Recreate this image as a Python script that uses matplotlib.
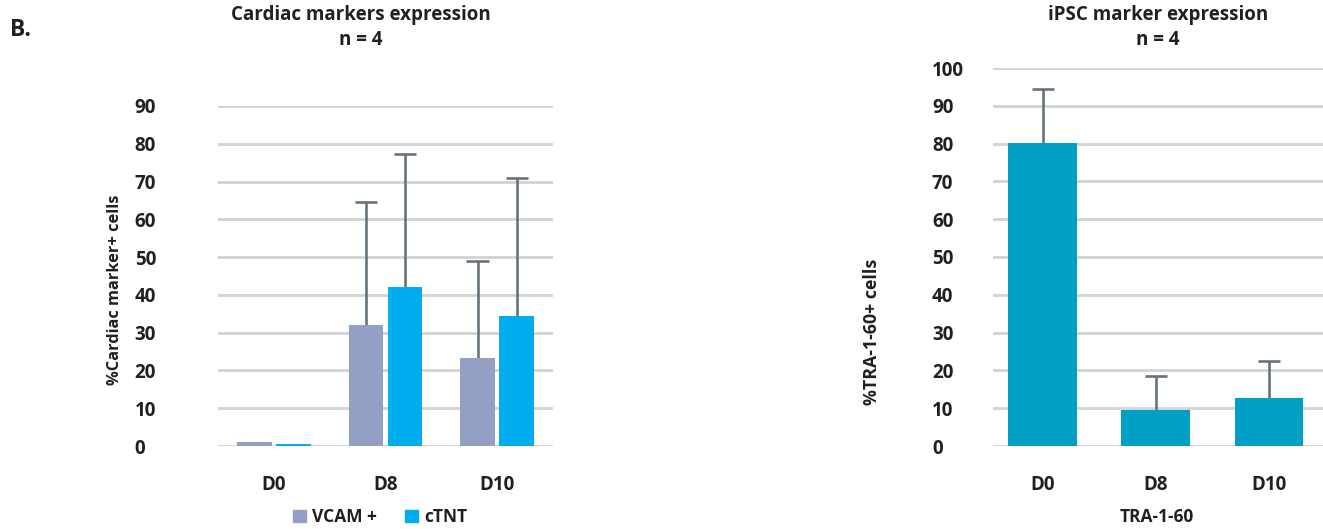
import matplotlib
matplotlib.use("Agg")
import matplotlib.pyplot as plt
from matplotlib.patches import Patch
import numpy as np

plt.rcParams['font.family'] = ['Open Sans', 'DejaVu Sans']

categories = ["D0", "D8", "D10"]
vcam = [1.1, 32.0, 23.3]
vcam_err = [0.0, 32.5, 25.7]
ctnt = [0.6, 42.1, 34.4]
ctnt_err = [0.0, 35.1, 36.5]
tra = [80.2, 9.5, 12.7]
tra_err = [14.2, 9.0, 9.8]
left_yticks = list(range(0, 100, 10))
right_yticks = list(range(0, 110, 10))

C_VCAM = "#939fc4"
C_CTNT = "#00adee"
C_TRA = "#009fc6"
C_ERR = "#66737c"
C_GRID = "#d3d3d3"
C_TEXT = "#231f20"

W, H = 1323, 529
fig = plt.figure(figsize=(W/100, H/100), dpi=100)

def fx(px):
    return px / W

def fy(py):
    return 1 - py / H

def style(ax, ylim, yticks, ypad):
    ax.set_ylim(*ylim)
    ax.set_yticks(yticks)
    ax.yaxis.grid(True, color=C_GRID, lw=2)
    ax.set_axisbelow(True)
    for s in ax.spines.values():
        s.set_visible(False)
    ax.tick_params(axis='both', length=0, labelsize=13.5, colors=C_TEXT)
    ax.tick_params(axis='y', pad=ypad)
    ax.tick_params(axis='x', pad=21)
    for lab in ax.get_xticklabels():
        lab.set_fontweight('bold')
    for lab in ax.get_yticklabels():
        lab.set_fontweight('bold')
        lab.set_horizontalalignment('left')

def up_errors(ax, xs, vals, errs, capw):
    for xi, v, e in zip(xs, vals, errs):
        if e <= 0:
            continue
        ax.vlines(xi, v - 2, v + e, color=C_ERR, lw=1.9, zorder=1)
        ax.hlines(v + e, xi - capw/2, xi + capw/2, color=C_ERR, lw=1.9, zorder=1)

# Left chart
ax1 = fig.add_axes([fx(218), fy(446), fx(553-218), (446-106)/H])
x = np.arange(len(categories))
w = 0.31
off = w/2 + 0.02
ax1.bar(x - off, vcam, w, color=C_VCAM, zorder=2)
ax1.bar(x + off, ctnt, w, color=C_CTNT, zorder=2)
up_errors(ax1, x - off, vcam, vcam_err, 0.2)
up_errors(ax1, x + off, ctnt, ctnt_err, 0.2)
ax1.set_xlim(-0.5, 2.5)
ax1.set_xticks(x)
ax1.set_xticklabels(categories)
style(ax1, (0, 90), left_yticks, 60)

# Right chart
ax2 = fig.add_axes([fx(993), fy(446), fx(1323-993), (446-68)/H])
ax2.bar(x, tra, 0.61, color=C_TRA, zorder=2)
up_errors(ax2, x, tra, tra_err, 0.2)
ax2.set_xlim(-0.442, 2.478)
ax2.set_xticks(x)
ax2.set_xticklabels(categories)
style(ax2, (0, 100), right_yticks, 44)

tkw = dict(fontweight='bold', color=C_TEXT, ha='center', va='center')
# Titles
fig.text(fx(361), fy(15), "Cardiac markers expression", fontsize=13.5, **tkw)
fig.text(fx(361), fy(40), "n = 4", fontsize=13.5, **tkw)
fig.text(fx(1158), fy(15), "iPSC marker expression", fontsize=13.5, **tkw)
fig.text(fx(1158), fy(40), "n = 4", fontsize=13.5, **tkw)

# Y labels
fig.text(fx(115), fy(290), "%Cardiac marker+ cells", fontsize=11.8, rotation=90, **tkw)
fig.text(fx(872), fy(332), "%TRA-1-60+ cells", fontsize=12.8, rotation=90, **tkw)

# X label right
fig.text(fx(1157), fy(517), "TRA-1-60", fontsize=12.5, **tkw)

# Legend
handles = [Patch(color=C_VCAM, label="VCAM +"), Patch(color=C_CTNT, label="cTNT")]
leg = fig.legend(handles=handles, loc='center', bbox_to_anchor=(fx(380), fy(517)), ncol=2,
                 frameon=False, prop=dict(weight='bold', size=12.5), handlelength=0.75,
                 handleheight=0.75, handletextpad=0.35, columnspacing=1.6,
                 borderpad=0, borderaxespad=0)
for t in leg.get_texts():
    t.set_color(C_TEXT)

fig.text(fx(10), fy(30), "B.", fontsize=16.5, fontweight='bold', color=C_TEXT, va='center', ha='left')

fig.savefig("out.png", dpi=100)
